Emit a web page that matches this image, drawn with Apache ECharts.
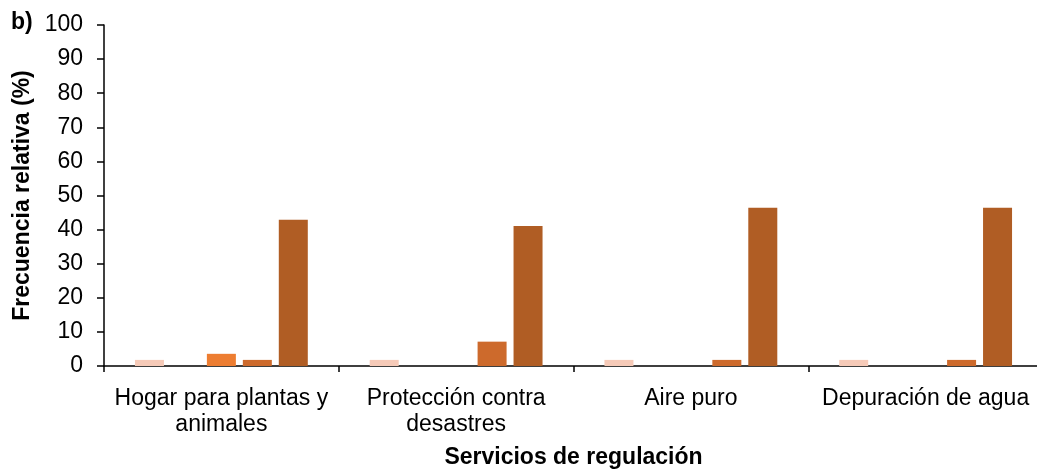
<!DOCTYPE html>
<html>
<head>
<meta charset="utf-8">
<script src="https://cdn.jsdelivr.net/npm/echarts@6/dist/echarts.min.js"></script>
<style>html,body{margin:0;padding:0;background:#fff;overflow:hidden;}#c{width:1043px;height:470px;}</style>
</head>
<body>
<div id="c"></div>
<script>
const categories = ['Hogar para plantas y\nanimales', 'Protección contra\ndesastres', 'Aire puro', 'Depuración de agua'];
const serie1 = [1.79, 1.79, 1.79, 1.79];
const serie2 = [0, 0, 0, 0];
const serie3 = [3.57, 0, 0, 0];
const serie4 = [1.79, 7.14, 1.79, 1.79];
const serie5 = [42.86, 41.07, 46.43, 46.43];
const yTicks = [0, 10, 20, 30, 40, 50, 60, 70, 80, 90, 100];
const colors = ['#F6CAB8', '#F4B183', '#ED7D31', '#CD6A2C', '#B05D24'];

const chart = echarts.init(document.getElementById('c'));
const font = 'Liberation Sans, Arial, sans-serif';
const seriesData = [serie1, serie2, serie3, serie4, serie5];
chart.setOption({
  animation: false,
  grid: { left: 104, right: 0, top: 25, bottom: 104, containLabel: false, outerBoundsMode: 'none' },
  graphic: [{
    type: 'text', left: 11, top: 11,
    style: { text: 'b)', font: 'bold 23px ' + font, fill: '#000' }
  }],
  xAxis: {
    type: 'category',
    data: categories,
    name: 'Servicios de regulación',
    nameLocation: 'middle',
    nameGap: 80,
    nameTextStyle: { fontFamily: font, fontSize: 23, fontWeight: 'bold', color: '#000' },
    axisLine: { lineStyle: { color: '#000', width: 1.5 } },
    axisTick: { show: true, alignWithLabel: false, length: 6, lineStyle: { color: '#000', width: 1.5 } },
    axisLabel: { fontFamily: font, fontSize: 23, color: '#000', margin: 20, lineHeight: 26, interval: 0 },
    splitLine: { show: false }
  },
  yAxis: {
    type: 'value',
    min: yTicks[0], max: yTicks[yTicks.length - 1], interval: 10,
    name: 'Frecuencia relativa (%)',
    nameLocation: 'middle',
    nameGap: 69,
    nameRotate: 90,
    nameTextStyle: { fontFamily: font, fontSize: 23, fontWeight: 'bold', color: '#000' },
    axisLine: { show: true, lineStyle: { color: '#000', width: 1.5 } },
    axisTick: { show: true, length: 7, lineStyle: { color: '#000', width: 1.5 } },
    axisLabel: { fontFamily: font, fontSize: 23, color: '#000', margin: 21 },
    splitLine: { show: false }
  },
  series: seriesData.map((d, i) => ({
    type: 'bar',
    data: d,
    barWidth: 29,
    barGap: '24%',
    itemStyle: { color: colors[i] }
  }))
});
</script>
</body>
</html>
